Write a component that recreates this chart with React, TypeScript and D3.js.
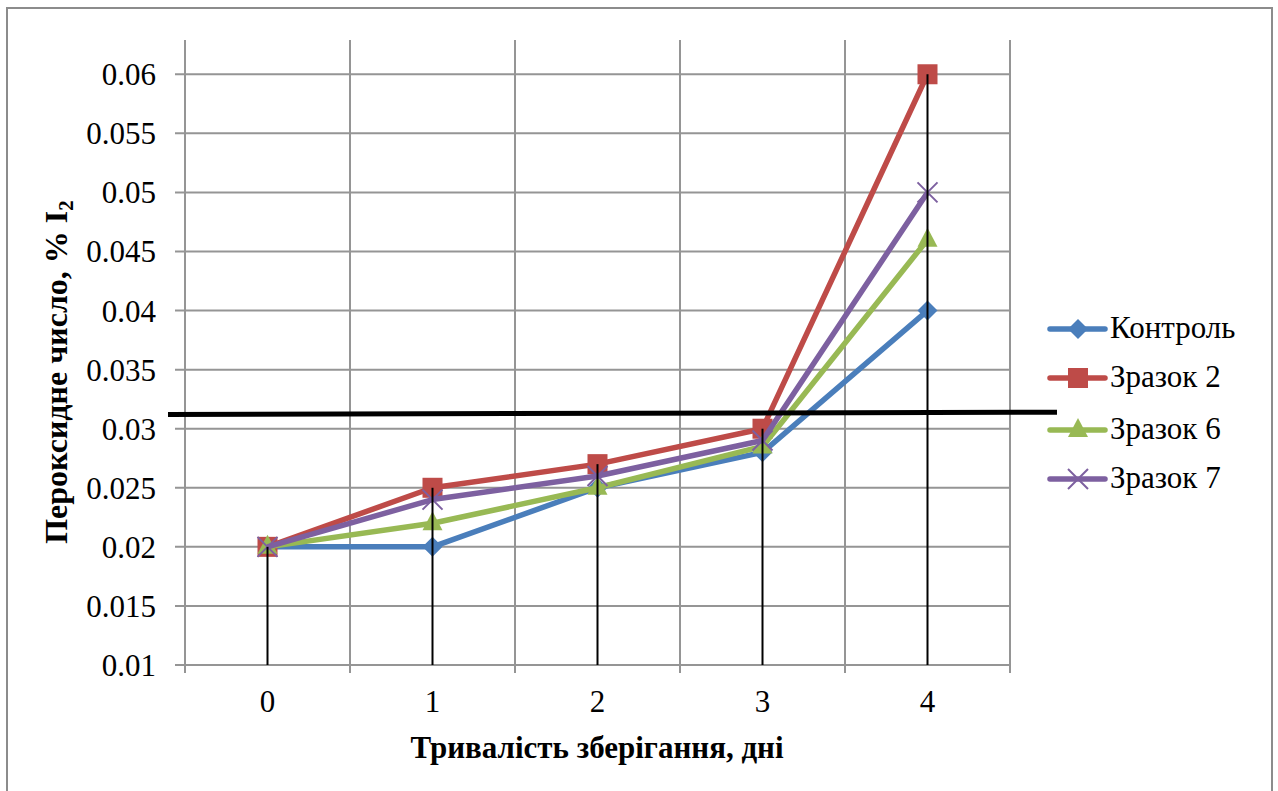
import React from 'react';
import * as d3 from 'd3';

// storage days
const days = ['0', '1', '2', '3', '4'];

const seriesNames = ['Контроль', 'Зразок 2', 'Зразок 6', 'Зразок 7'];
const control = [0.02, 0.02, 0.025, 0.028, 0.04];
const sample2 = [0.02, 0.025, 0.027, 0.03, 0.06];
const sample6 = [0.02, 0.022, 0.025, 0.0285, 0.046];
const sample7 = [0.02, 0.024, 0.026, 0.029, 0.05];

const yTicks = [0.01, 0.015, 0.02, 0.025, 0.03, 0.035, 0.04, 0.045, 0.05, 0.055, 0.06];
const yTickLabels = ['0.01', '0.015', '0.02', '0.025', '0.03', '0.035', '0.04', '0.045', '0.05', '0.055', '0.06'];

// hand-drawn limit line (left end, right end)
const limitLine = [0.0312, 0.0314];

const colors = ['#4A7EBB', '#BE4B48', '#98B954', '#7D60A0'];
const markers = ['diamond', 'square', 'triangle', 'cross'];

const W = 1278;
const H = 791;
const margin = { top: 40, left: 185, right: 268, bottom: 126 };
const FONT = '"Liberation Serif"';

function Marker({ type, x, y, color }) {
	if (type === 'diamond') {
		const s = 10;
		return <path d={`M${x},${y - s}L${x + s},${y}L${x},${y + s}L${x - s},${y}Z`} fill={color} />;
	}
	if (type === 'square') {
		return <rect x={x - 10} y={y - 10} width={20} height={20} fill={color} />;
	}
	if (type === 'triangle') {
		return <path d={`M${x},${y - 12}L${x + 10},${y + 7}L${x - 10},${y + 7}Z`} fill={color} />;
	}
	const s = 10;
	return (
		<path
			d={`M${x - s},${y - s}L${x + s},${y + s}M${x + s},${y - s}L${x - s},${y + s}`}
			stroke={color}
			strokeWidth={2}
		/>
	);
}

export default function App() {
	const series = [control, sample2, sample6, sample7];
	const plotW = W - margin.left - margin.right;
	const plotH = H - margin.top - margin.bottom;

	const x = d3.scaleBand().domain(days).range([margin.left, margin.left + plotW]);
	const cx = (d) => x(d) + x.bandwidth() / 2;
	const y = d3.scaleLinear().domain([0.01, 0.0629]).range([margin.top + plotH, margin.top]);

	const line = d3.line().x((d, i) => cx(days[i])).y((d) => y(d));

	const bounds = days.map((d) => x(d)).concat([margin.left + plotW]);
	const maxByDay = days.map((d, i) => d3.max(series, (s) => s[i]));
	const yBottom = margin.top + plotH;

	const legendX = 1050;
	const legendY = [329, 378, 430, 479];

	return (
		<svg width={W} height={H} style={{ position: 'absolute', left: 0, top: 0, background: '#fff' }}>
			<rect x={7} y={8} width={1265} height={790} fill="#fff" stroke="#8c8c8c" strokeWidth={2} />

			{/* gridlines */}
			{yTicks.map((t) => (
				<line key={'h' + t} x1={margin.left - 10} x2={margin.left + plotW} y1={y(t)} y2={y(t)} stroke="#959595" strokeWidth={2} />
			))}
			{bounds.map((b, i) => (
				<line key={'v' + i} x1={b} x2={b} y1={margin.top} y2={yBottom + 8} stroke="#959595" strokeWidth={2} />
			))}

			{/* y tick labels */}
			{yTicks.map((t, i) => (
				<text key={'yl' + t} x={156} y={y(t) + 11} textAnchor="end" fontFamily={FONT} fontSize={31} fill="#000">
					{yTickLabels[i]}
				</text>
			))}
			{/* x tick labels */}
			{days.map((d) => (
				<text key={'xl' + d} x={cx(d)} y={712} textAnchor="middle" fontFamily={FONT} fontSize={31} fill="#000">
					{d}
				</text>
			))}

			{/* series */}
			{series.map((s, si) => (
				<g key={'s' + si}>
					<path d={line(s)} fill="none" stroke={colors[si]} strokeWidth={5.5} strokeLinejoin="round" />
					{s.map((v, i) => (
						<Marker key={i} type={markers[si]} x={cx(days[i])} y={y(v)} color={colors[si]} />
					))}
				</g>
			))}

			{/* drop lines */}
			{days.map((d, i) => (
				<line key={'dl' + d} x1={cx(d)} x2={cx(d)} y1={y(maxByDay[i])} y2={yBottom} stroke="#000" strokeWidth={2} />
			))}

			{/* limit line */}
			<line x1={168} x2={1057} y1={y(limitLine[0])} y2={y(limitLine[1])} stroke="#000" strokeWidth={5} />

			{/* legend */}
			{seriesNames.map((n, i) => (
				<g key={'lg' + i}>
					<line x1={legendX} x2={legendX + 55} y1={legendY[i]} y2={legendY[i]} stroke={colors[i]} strokeWidth={5.5} strokeLinecap="round" />
					<Marker type={markers[i]} x={legendX + 28} y={legendY[i]} color={colors[i]} />
					<text x={1110} y={legendY[i] + 9} fontFamily={FONT} fontSize={31} fill="#000">
						{n}
					</text>
				</g>
			))}

			{/* axis titles */}
			<text x={597} y={758} textAnchor="middle" fontFamily={FONT} fontSize={31} fontWeight="bold" fill="#000">
				Тривалість зберігання, дні
			</text>
			<text
				transform="translate(67,372) rotate(-90)"
				textAnchor="middle"
				fontFamily={FONT}
				fontSize={32}
				fontWeight="bold"
				fill="#000"
			>
				Пероксидне число, % I<tspan fontSize={21} dy={6}>2</tspan>
			</text>
		</svg>
	);
}
